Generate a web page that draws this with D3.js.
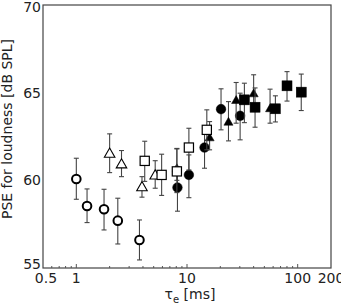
<!DOCTYPE html>
<html>
<head>
<meta charset="utf-8">
<script src="https://cdn.jsdelivr.net/npm/d3@7"></script>
<style>
  body { margin: 0; background: #fff; }
  text { font-family: "DejaVu Sans", Verdana, sans-serif; fill: #222; }
</style>
</head>
<body>
<script>
// open circles
const ocTau = [1.0, 1.25, 1.78, 2.37, 3.72];
const ocPse = [60.08, 58.54, 58.35, 57.70, 56.60];
const ocLo = [58.92, 57.59, 57.17, 56.37, 55.46];
const ocHi = [61.26, 59.51, 59.49, 58.98, 57.74];

// open triangles
const otTau = [2.0, 2.56, 3.92, 5.16];
const otPse = [61.55, 60.94, 59.64, 60.31];
const otLo = [60.44, 60.21, 59.04, 59.55];
const otHi = [62.65, 61.70, 60.21, 61.12];

// filled circles
const fcTau = [8.2, 10.4, 14.4, 20.3, 30.2];
const fcPse = [59.59, 60.31, 61.87, 64.06, 63.68];
const fcLo = [58.24, 59.01, 60.69, 62.88, 62.31];
const fcHi = [60.78, 61.45, 62.97, 65.22, 64.97];

// filled triangles
const ftTau = [8.1, 16.0, 23.7, 27.8, 40.0, 56.3];
const ftPse = [60.70, 62.46, 63.35, 64.59, 64.97, 64.12];
const ftLo = [60.00, 61.74, 62.25, 63.26, 64.00, 63.26];
const ftHi = [61.79, 63.35, 64.49, 65.58, 66.02, 65.20];

// open squares
const osTau = [4.15, 5.9, 8.1, 10.4, 15.1];
const osPse = [61.11, 60.31, 60.51, 61.87, 62.88];
const osLo = [59.94, 59.14, 59.30, 60.59, 61.74];
const osHi = [62.23, 61.49, 61.82, 62.97, 64.02];

// filled squares
const fsTau = [33.0, 41.2, 62.9, 80.1, 107.7];
const fsPse = [64.59, 64.17, 64.08, 65.39, 65.03];
const fsLo = [63.29, 63.03, 63.33, 64.52, 63.98];
const fsHi = [65.54, 65.27, 64.82, 66.20, 66.06];

const xTickLabels = [0.5, 1, 10, 100, 200];
const yTickLabels = [55, 60, 65, 70];

const width = 341, height = 306;
const pLeft = 43, pRight = 331, pTop = 5, pBottom = 268;

const svg = d3.select("body").append("svg")
  .attr("width", width).attr("height", height);

const x = d3.scaleLog().domain([0.5, 200]).range([pLeft, pRight]);
const y = d3.scaleLinear().domain([55, 70]).range([pBottom, pTop]);

function rows(tau, pse, lo, hi) {
  return tau.map((t, i) => ({ t: t, v: pse[i], lo: lo[i], hi: hi[i] }));
}

const series = [
  { data: rows(ocTau, ocPse, ocLo, ocHi), shape: "circle", filled: false },
  { data: rows(otTau, otPse, otLo, otHi), shape: "triangle", filled: false },
  { data: rows(fcTau, fcPse, fcLo, fcHi), shape: "circle", filled: true },
  { data: rows(ftTau, ftPse, ftLo, ftHi), shape: "triangle", filled: true },
  { data: rows(osTau, osPse, osLo, osHi), shape: "square", filled: false },
  { data: rows(fsTau, fsPse, fsLo, fsHi), shape: "square", filled: true }
];

// frame
svg.append("rect")
  .attr("x", pLeft).attr("y", pTop)
  .attr("width", pRight - pLeft).attr("height", pBottom - pTop)
  .attr("fill", "none").attr("stroke", "#444").attr("stroke-width", 1.2);

// x axis ticks (inward)
const minorTicks = [];
[0.1, 1, 10, 100].forEach(function(dec) {
  for (let k = 1; k < 10; k++) {
    const v = +(dec * k).toPrecision(3);
    if (v > 0.5 && v < 200) minorTicks.push(v);
  }
});
svg.append("g").selectAll("line")
  .data(minorTicks)
  .enter().append("line")
  .attr("x1", d => x(d)).attr("x2", d => x(d))
  .attr("y1", pBottom)
  .attr("y2", d => [1, 10, 100].includes(d) ? pBottom - 4 : pBottom - 2)
  .attr("stroke", "#555").attr("stroke-width", 1);

svg.append("g").selectAll("text")
  .data(xTickLabels)
  .enter().append("text")
  .attr("x", d => x(d) + (d === 0.5 ? 3 : 0)).attr("y", pBottom + 15)
  .attr("text-anchor", "middle")
  .attr("font-size", 14)
  .text(d => d);

svg.append("g").selectAll("text")
  .data(yTickLabels)
  .enter().append("text")
  .attr("x", pLeft - 2)
  .attr("y", d => Math.max(Math.min(y(d) + 5, pBottom + 1), 12))
  .attr("text-anchor", "end")
  .attr("font-size", 14)
  .text(d => d);

// axis titles
const xt = svg.append("text")
  .attr("x", 190).attr("y", 299)
  .attr("text-anchor", "middle")
  .attr("font-size", 14);
xt.append("tspan").text("\u03c4");
xt.append("tspan").attr("font-size", 10).attr("dy", 4).text("e");
xt.append("tspan").attr("dy", -4).text(" [ms]");

svg.append("text")
  .attr("transform", "translate(12," + 129 + ") rotate(-90)")
  .attr("text-anchor", "middle")
  .attr("font-size", 14)
  .text("PSE for loudness [dB SPL]");

// error bars + markers
const cap = 2.5;
const tri = d3.symbol().type(d3.symbolTriangle);

series.forEach(function(s) {
  const g = svg.append("g");
  const bars = g.selectAll("g.bar").data(s.data).enter().append("g")
    .attr("stroke", "#444").attr("stroke-width", 1.1);
  bars.append("line")
    .attr("x1", d => x(d.t)).attr("x2", d => x(d.t))
    .attr("y1", d => y(d.lo)).attr("y2", d => y(d.hi));
  bars.append("line")
    .attr("x1", d => x(d.t) - cap).attr("x2", d => x(d.t) + cap)
    .attr("y1", d => y(d.lo)).attr("y2", d => y(d.lo));
  bars.append("line")
    .attr("x1", d => x(d.t) - cap).attr("x2", d => x(d.t) + cap)
    .attr("y1", d => y(d.hi)).attr("y2", d => y(d.hi));

  const fill = s.filled ? "#000" : "#fff";
  if (s.shape === "circle") {
    g.selectAll("circle").data(s.data).enter().append("circle")
      .attr("cx", d => x(d.t)).attr("cy", d => y(d.v))
      .attr("r", s.filled ? 4.8 : 4.3)
      .attr("fill", fill).attr("stroke", "#000")
      .attr("stroke-width", s.filled ? 0.5 : 2);
  } else if (s.shape === "square") {
    const half = s.filled ? 5 : 4.6;
    g.selectAll("rect").data(s.data).enter().append("rect")
      .attr("x", d => x(d.t) - half).attr("y", d => y(d.v) - half)
      .attr("width", half * 2).attr("height", half * 2)
      .attr("fill", fill).attr("stroke", "#000")
      .attr("stroke-width", s.filled ? 0.5 : 1.2);
  } else {
    g.selectAll("path").data(s.data).enter().append("path")
      .attr("transform", d => "translate(" + x(d.t) + "," + (y(d.v) + 1) + ")")
      .attr("d", tri.size(s.filled ? 36 : 48)())
      .attr("fill", fill).attr("stroke", "#000")
      .attr("stroke-width", s.filled ? 0.5 : 1.1);
  }
});
</script>
</body>
</html>
